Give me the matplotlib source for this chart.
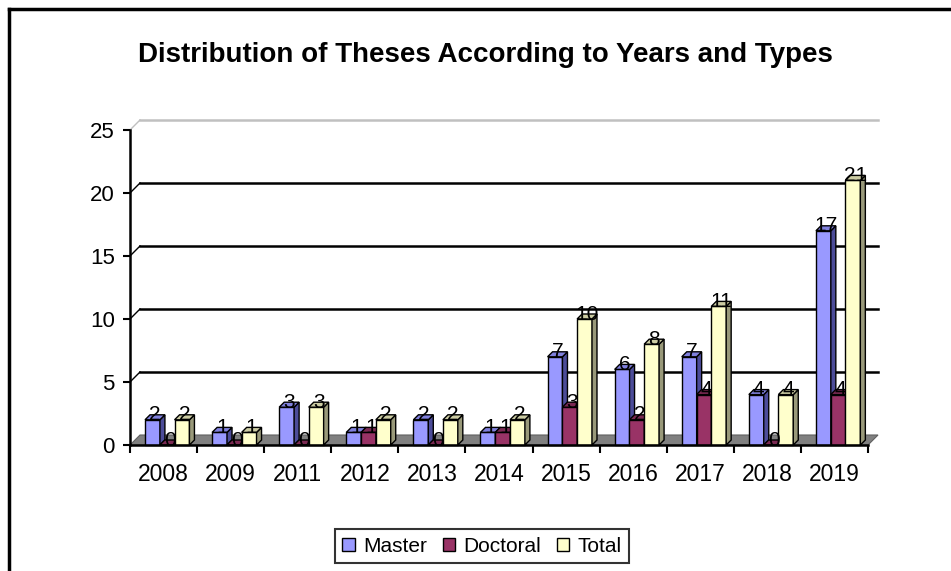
import matplotlib
matplotlib.use("Agg")
import matplotlib.pyplot as plt
from matplotlib.patches import Polygon, Patch
from matplotlib.lines import Line2D
import numpy as np

years = ["2008", "2009", "2011", "2012", "2013", "2014", "2015", "2016", "2017", "2018", "2019"]
master = [2, 1, 3, 1, 2, 1, 7, 6, 7, 4, 17]
doctoral = [0, 0, 0, 1, 0, 1, 3, 2, 4, 0, 4]
total = [2, 1, 3, 2, 2, 2, 10, 8, 11, 4, 21]

plt.rcParams['font.family'] = ['Liberation Sans', 'DejaVu Sans']

W, H = 951, 571
fig = plt.figure(figsize=(W / 100, H / 100), dpi=100)
ax = fig.add_axes([130 / W, 1 - 445 / H, 738 / W, 315 / H])
ax.set_xlim(-0.5, len(years) - 0.5)
ax.set_ylim(0, 25)

# pixel -> data helpers for the fake 3d depth
px_x = 738 / len(years)
px_y = 315 / 25


def dx(p):
    return p / px_x


def dy(p):
    return p / px_y


x = np.arange(len(years))
x_lo, x_hi = -0.5, len(years) - 0.5
wx, wy = dx(10), dy(10)

# back wall grid + floor
for v in [5, 10, 15, 20, 25]:
    c = '#c0c0c0' if v == 25 else 'black'
    ax.plot([x_lo + wx, x_hi + wx], [v + wy, v + wy], color=c, lw=1.8,
            clip_on=False, zorder=1)
    ax.plot([x_lo, x_lo + wx], [v, v + wy], color=c, lw=1.0,
            clip_on=False, zorder=1)
ax.add_patch(Polygon([(x_lo, 0), (x_hi, 0), (x_hi + wx, wy), (x_lo + wx, wy)],
                     closed=True, facecolor='#808080', edgecolor='#606060',
                     lw=0.8, clip_on=False, zorder=1))

series = [
    ("Master", master, -0.165, '#9999FF', '#4C4C99', '#8080DD'),
    ("Doctoral", doctoral, 0.055, '#993366', '#4D1A33', '#7A2952'),
    ("Total", total, 0.275, '#FFFFCC', '#99997A', '#CCCCA3'),
]
w = 0.222
ddx, ddy = dx(5), dy(5)
for k, (name, vals, off, front, side, top) in enumerate(series):
    z = 3 + k
    xs = x + off
    ax.bar(xs, vals, w, color=front, edgecolor='black', lw=1.0, zorder=z,
           clip_on=False)
    for xc, h in zip(xs, vals):
        x0, x1 = xc - w / 2, xc + w / 2
        ax.add_patch(Polygon([(x1, 0), (x1 + ddx, ddy), (x1 + ddx, h + ddy), (x1, h)],
                             closed=True, facecolor=side, edgecolor='black',
                             lw=1.0, zorder=z, clip_on=False))
        ax.add_patch(Polygon([(x0, h), (x1, h), (x1 + ddx, h + ddy), (x0 + ddx, h + ddy)],
                             closed=True, facecolor=top, edgecolor='black',
                             lw=1.0, zorder=z, clip_on=False))
    for xc, h in zip(xs, vals):
        ax.annotate(str(h), (xc + dx(2.5), h), xytext=(0, 5),
                    textcoords='offset pixels', ha='center', va='center',
                    fontsize=15, zorder=10, annotation_clip=False)

for s in ['top', 'right']:
    ax.spines[s].set_visible(False)
for s in ['left', 'bottom']:
    ax.spines[s].set_linewidth(1.8)
    ax.spines[s].set_zorder(8)

ax.set_xticks(np.arange(x_lo, x_hi + 0.01, 1))
ax.set_xticklabels([])
ax.set_xticks(x, minor=True)
ax.set_xticklabels(years, minor=True, fontsize=16.5)
ax.tick_params(axis='x', which='major', length=6, width=1.5, direction='out')
ax.tick_params(axis='x', which='minor', length=0, pad=13)
ax.set_yticks([0, 5, 10, 15, 20, 25])
ax.set_yticklabels(['0', '5', '10', '15', '20', '25'], fontsize=16)
ax.tick_params(axis='y', length=5, width=1.5, direction='out', pad=6)

fig.text(485 / W, 1 - 62 / H, "Distribution of Theses According to Years and Types",
         ha='center', va='baseline', fontsize=20, fontweight='bold')

handles = [Patch(facecolor=s[3], edgecolor='black', lw=1.0, label=s[0]) for s in series]
leg = fig.legend(handles=handles, loc='center', bbox_to_anchor=(482 / W, 1 - 546 / H),
                 ncol=3, fontsize=15, frameon=True, fancybox=False, shadow=False,
                 handlelength=0.6, handleheight=0.6, handletextpad=0.4,
                 columnspacing=0.75, borderpad=0.35, borderaxespad=0)
leg.get_frame().set_edgecolor('black')
leg.get_frame().set_linewidth(1.5)

# outer chart border (cut off at right and bottom)
fig.add_artist(Line2D([9 / W, 1.0], [1 - 9 / H, 1 - 9 / H], color='black', lw=2.5))
fig.add_artist(Line2D([9 / W, 9 / W], [0, 1 - 9 / H], color='black', lw=2.5))

fig.savefig("out.png", dpi=100)
